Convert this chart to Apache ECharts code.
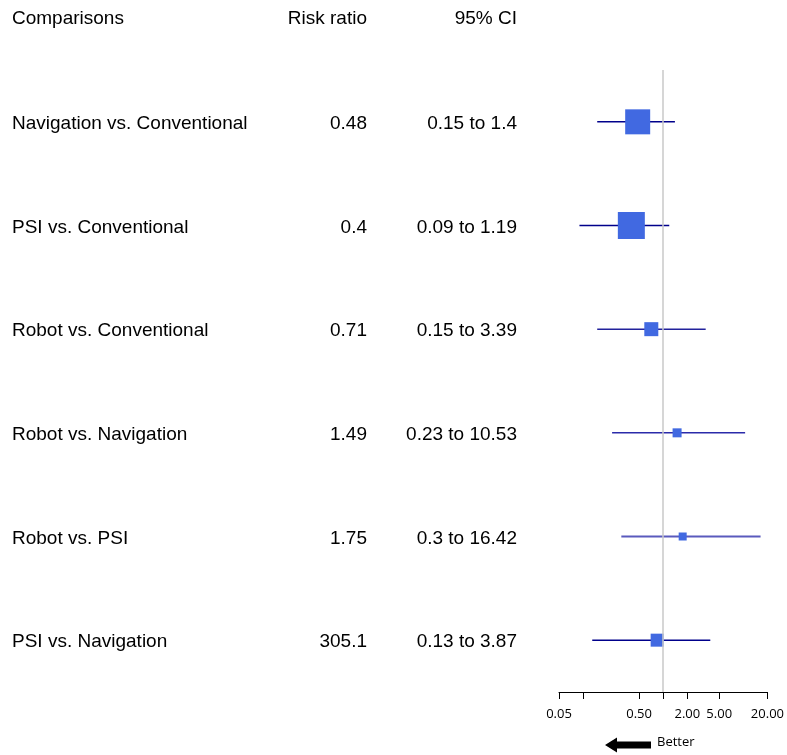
<!DOCTYPE html>
<html>
<head>
<meta charset="utf-8">
<script src="https://cdn.jsdelivr.net/npm/echarts@6/dist/echarts.min.js"></script>
<style>html,body{margin:0;padding:0;background:#fff;}#c{width:787px;height:755px;}</style>
</head>
<body>
<div id="c"></div>
<script>
const comparisons = ['Navigation vs. Conventional','PSI vs. Conventional','Robot vs. Conventional','Robot vs. Navigation','Robot vs. PSI','PSI vs. Navigation'];
const riskRatioText = ['0.48','0.4','0.71','1.49','1.75','305.1'];
const pointEstimates = [0.48, 0.4, 0.71, 1.49, 1.75, 0.84];
const ciLow = [0.15, 0.09, 0.15, 0.23, 0.3, 0.13];
const ciHigh = [1.4, 1.19, 3.39, 10.53, 16.42, 3.87];
const weights = [25, 27, 14, 9, 8, 13];
const tickValues = [0.05, 0.1, 0.5, 1, 2, 5, 20];
const tickLabelValues = [0.05, 0.5, 2, 5, 20];
const referenceValue = [1];

const lineColors = ['#00008b','#00008b','#22229c','#2b2baa','#5a5abd','#00008b'];
const lineWidths = [1.5, 1.5, 1.5, 1.5, 2, 1.5];
const FONT = '"Liberation Sans", Arial, sans-serif';
const SMALL = '"Open Sans", "DejaVu Sans", sans-serif';

const chart = echarts.init(document.getElementById('c'), null, {renderer:'canvas'});
const option = {
  animation: false,
  backgroundColor: '#fff',
  grid: { left: 559, right: 19, top: 70, bottom: 63 },
  xAxis: {
    type: 'log', logBase: 10, min: 0.05, max: 20,
    axisLine: { show: true, lineStyle: { color: '#000', width: 1 } },
    axisTick: { show: true, length: 7, lineStyle: { color: '#000', width: 1 }, customValues: tickValues },
    axisLabel: { customValues: tickLabelValues, formatter: v => Number(v).toFixed(2), fontFamily: SMALL, fontSize: 13, color: '#000', margin: 16 },
    splitLine: { show: false },
    minorTick: { show: false }
  },
  yAxis: {
    type: 'category', inverse: true, data: comparisons,
    axisLine: { show: false }, axisTick: { show: false }, splitLine: { show: false },
    axisLabel: {
      interval: 0, align: 'left', margin: 547, padding: [4, 0, 0, 0],
      formatter: (v, i) => '{a|' + v + '}{b|' + riskRatioText[i] + '}{c|' + ciLow[i] + ' to ' + ciHigh[i] + '}',
      rich: {
        a: { width: 255, align: 'left', fontSize: 19, fontFamily: FONT, color: '#000' },
        b: { width: 100, align: 'right', fontSize: 19, fontFamily: FONT, color: '#000' },
        c: { width: 150, align: 'right', fontSize: 19, fontFamily: FONT, color: '#000' }
      }
    }
  },
  series: [
    {
      type: 'custom',
      data: comparisons.map((c, i) => [ciLow[i], ciHigh[i], i]),
      encode: { x: [0, 1], y: 2 },
      renderItem: (params, api) => {
        const i = params.dataIndex;
        const p1 = api.coord([api.value(0), api.value(2)]);
        const p2 = api.coord([api.value(1), api.value(2)]);
        return { type: 'line', shape: { x1: p1[0], y1: p1[1], x2: p2[0], y2: p2[1] }, style: { stroke: lineColors[i], lineWidth: lineWidths[i] } };
      },
      z: 2
    },
    {
      type: 'scatter',
      symbol: 'rect',
      data: pointEstimates.map((v, i) => [v, i]),
      symbolSize: (val, p) => weights[p.dataIndex],
      itemStyle: { color: '#4169e1', opacity: 1 },
      markLine: {
        silent: true, symbol: 'none', label: { show: false },
        lineStyle: { color: '#c8c8c8', width: 1.5, type: 'solid' },
        data: referenceValue.map(v => ({ xAxis: v }))
      },
      z: 3
    }
  ],
  graphic: [
    { type: 'text', left: 12, top: 9, style: { text: 'Comparisons', fontSize: 19, fontFamily: FONT, fill: '#000' } },
    { type: 'text', right: 787 - 367, top: 9, style: { text: 'Risk ratio', fontSize: 19, fontFamily: FONT, fill: '#000' } },
    { type: 'text', right: 787 - 517, top: 9, style: { text: '95% CI', fontSize: 19, fontFamily: FONT, fill: '#000' } },
    { type: 'polygon', shape: { points: [[605,745],[617,737.5],[617,741.5],[651,741.5],[651,748.5],[617,748.5],[617,752.5]] }, style: { fill: '#000' } },
    { type: 'text', left: 657, top: 736, style: { text: 'Better', fontSize: 13, fontFamily: SMALL, fill: '#000' } }
  ]
};
chart.setOption(option);
</script>
</body>
</html>
